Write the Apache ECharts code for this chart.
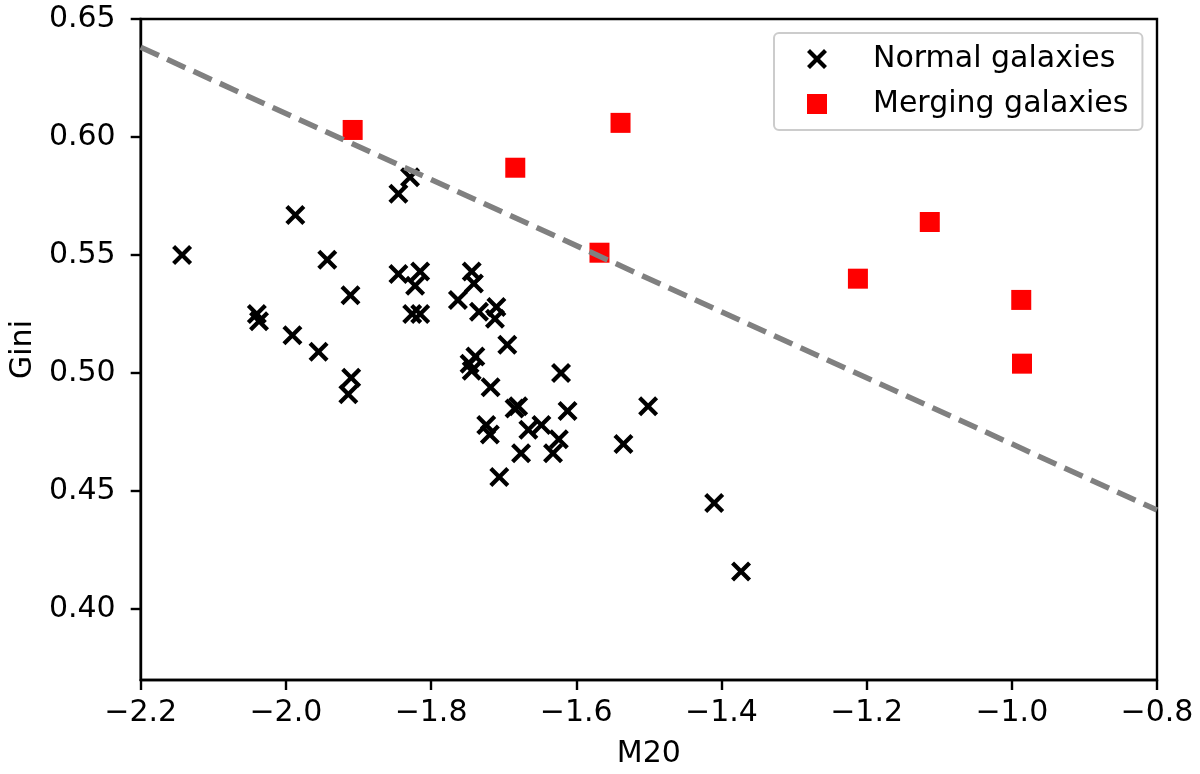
<!DOCTYPE html>
<html>
<head>
<meta charset="utf-8">
<script src="https://cdn.jsdelivr.net/npm/echarts@6/dist/echarts.min.js"></script>
<style>
  html, body { margin: 0; padding: 0; background: #fff; }
  #chart { width: 1200px; height: 774px; }
</style>
</head>
<body>
<div id="chart"></div>
<script>
// values
const normalM20 = [-2.143, -1.987, -1.943, -1.911, -2.040, -2.037, -1.991, -1.955, -1.910, -1.914,
  -1.845, -1.829, -1.845, -1.815, -1.822, -1.826, -1.815, -1.744, -1.741, -1.763,
  -1.734, -1.710, -1.712, -1.695, -1.739, -1.747, -1.744, -1.718, -1.621, -1.680,
  -1.685, -1.612, -1.724, -1.719, -1.666, -1.648, -1.624, -1.632, -1.676, -1.706,
  -1.501, -1.535, -1.410, -1.373]
const normalGini = [0.550, 0.567, 0.548, 0.533, 0.525, 0.522, 0.516, 0.509, 0.498, 0.491,
  0.576, 0.583, 0.542, 0.543, 0.537, 0.525, 0.525, 0.543, 0.538, 0.531,
  0.526, 0.528, 0.523, 0.512, 0.507, 0.504, 0.501, 0.494, 0.500, 0.486,
  0.485, 0.484, 0.478, 0.474, 0.476, 0.478, 0.472, 0.466, 0.466, 0.456,
  0.486, 0.470, 0.445, 0.416]
const mergingM20 = [-1.908, -1.684, -1.539, -1.568, -1.212, -1.113, -0.987, -0.986]
const mergingGini = [0.603, 0.587, 0.606, 0.551, 0.540, 0.564, 0.531, 0.504]
// dashed dividing line, end points read at the axis limits
const lineM20 = [-2.2, -0.8]
const lineGini = [0.638, 0.442]

const xTicks = [-2.2, -2.0, -1.8, -1.6, -1.4, -1.2, -1.0, -0.8]
const yTicks = [0.40, 0.45, 0.50, 0.55, 0.60, 0.65]

const zip = (a, b) => a.map((v, i) => [v, b[i]])
// bold "x" marker as a filled outline
const crossPath = 'path://M0,3L3,0L10,7L17,0L20,3L13,10L20,17L17,20L10,13L3,20L0,17L7,10Z'
const font = 'DejaVu Sans'

const chart = echarts.init(document.getElementById('chart'))
chart.setOption({
  animation: false,
  textStyle: { fontFamily: font },
  grid: {
    left: 136, right: 43, top: 19, bottom: 91,
    show: true, borderColor: '#000', borderWidth: 2.4,
  },
  legend: {
    data: ['Normal galaxies', 'Merging galaxies'],
    orient: 'vertical',
    left: 774, top: 33,
    padding: [10, 14, 10, 33],
    itemWidth: 20, itemHeight: 20, itemGap: 13,
    borderColor: '#cccccc', borderWidth: 2, borderRadius: 5,
    textStyle: { fontSize: 30, fontFamily: font, color: '#000', lineHeight: 32, padding: [0, 0, 0, 41] },
  },
  xAxis: {
    type: 'value',
    min: -2.2, max: -0.8,
    name: 'M20', nameLocation: 'middle', nameGap: 59,
    nameTextStyle: { fontSize: 30, color: '#000', fontFamily: font },
    axisLine: { show: true, onZero: false, lineStyle: { color: '#000', width: 2.4 } },
    axisTick: { show: true, length: 10, customValues: xTicks, lineStyle: { color: '#000', width: 2.4 } },
    axisLabel: {
      customValues: xTicks, margin: 18, fontSize: 30, color: '#000',
      formatter: v => v.toFixed(1).replace('-', '\u2212'),
    },
    splitLine: { show: false },
  },
  yAxis: {
    type: 'value',
    min: 0.37, max: 0.65,
    name: 'Gini', nameLocation: 'middle', nameGap: 98,
    nameTextStyle: { fontSize: 30, color: '#000', fontFamily: font },
    axisLine: { show: true, onZero: false, lineStyle: { color: '#000', width: 2.4 } },
    axisTick: { show: true, length: 10, customValues: yTicks, lineStyle: { color: '#000', width: 2.4 } },
    axisLabel: {
      customValues: yTicks, margin: 25, fontSize: 30, color: '#000',
      formatter: v => v.toFixed(2),
    },
    splitLine: { show: false },
  },
  series: [
    {
      name: 'Normal galaxies',
      type: 'scatter',
      data: zip(normalM20, normalGini),
      symbol: crossPath,
      symbolSize: 20,
      itemStyle: { color: '#000', opacity: 1 },
      z: 2,
    },
    {
      name: 'Merging galaxies',
      type: 'scatter',
      data: zip(mergingM20, mergingGini),
      symbol: 'rect',
      symbolSize: 20,
      itemStyle: { color: '#ff0000', opacity: 1 },
      z: 3,
    },
    {
      name: 'criterion',
      type: 'line',
      data: zip(lineM20, lineGini),
      showSymbol: false,
      silent: true,
      lineStyle: { color: '#808080', width: 5.5, type: [20, 9] },
      z: 4,
    },
  ],
})
window.addEventListener('resize', () => chart.resize())
</script>
</body>
</html>
